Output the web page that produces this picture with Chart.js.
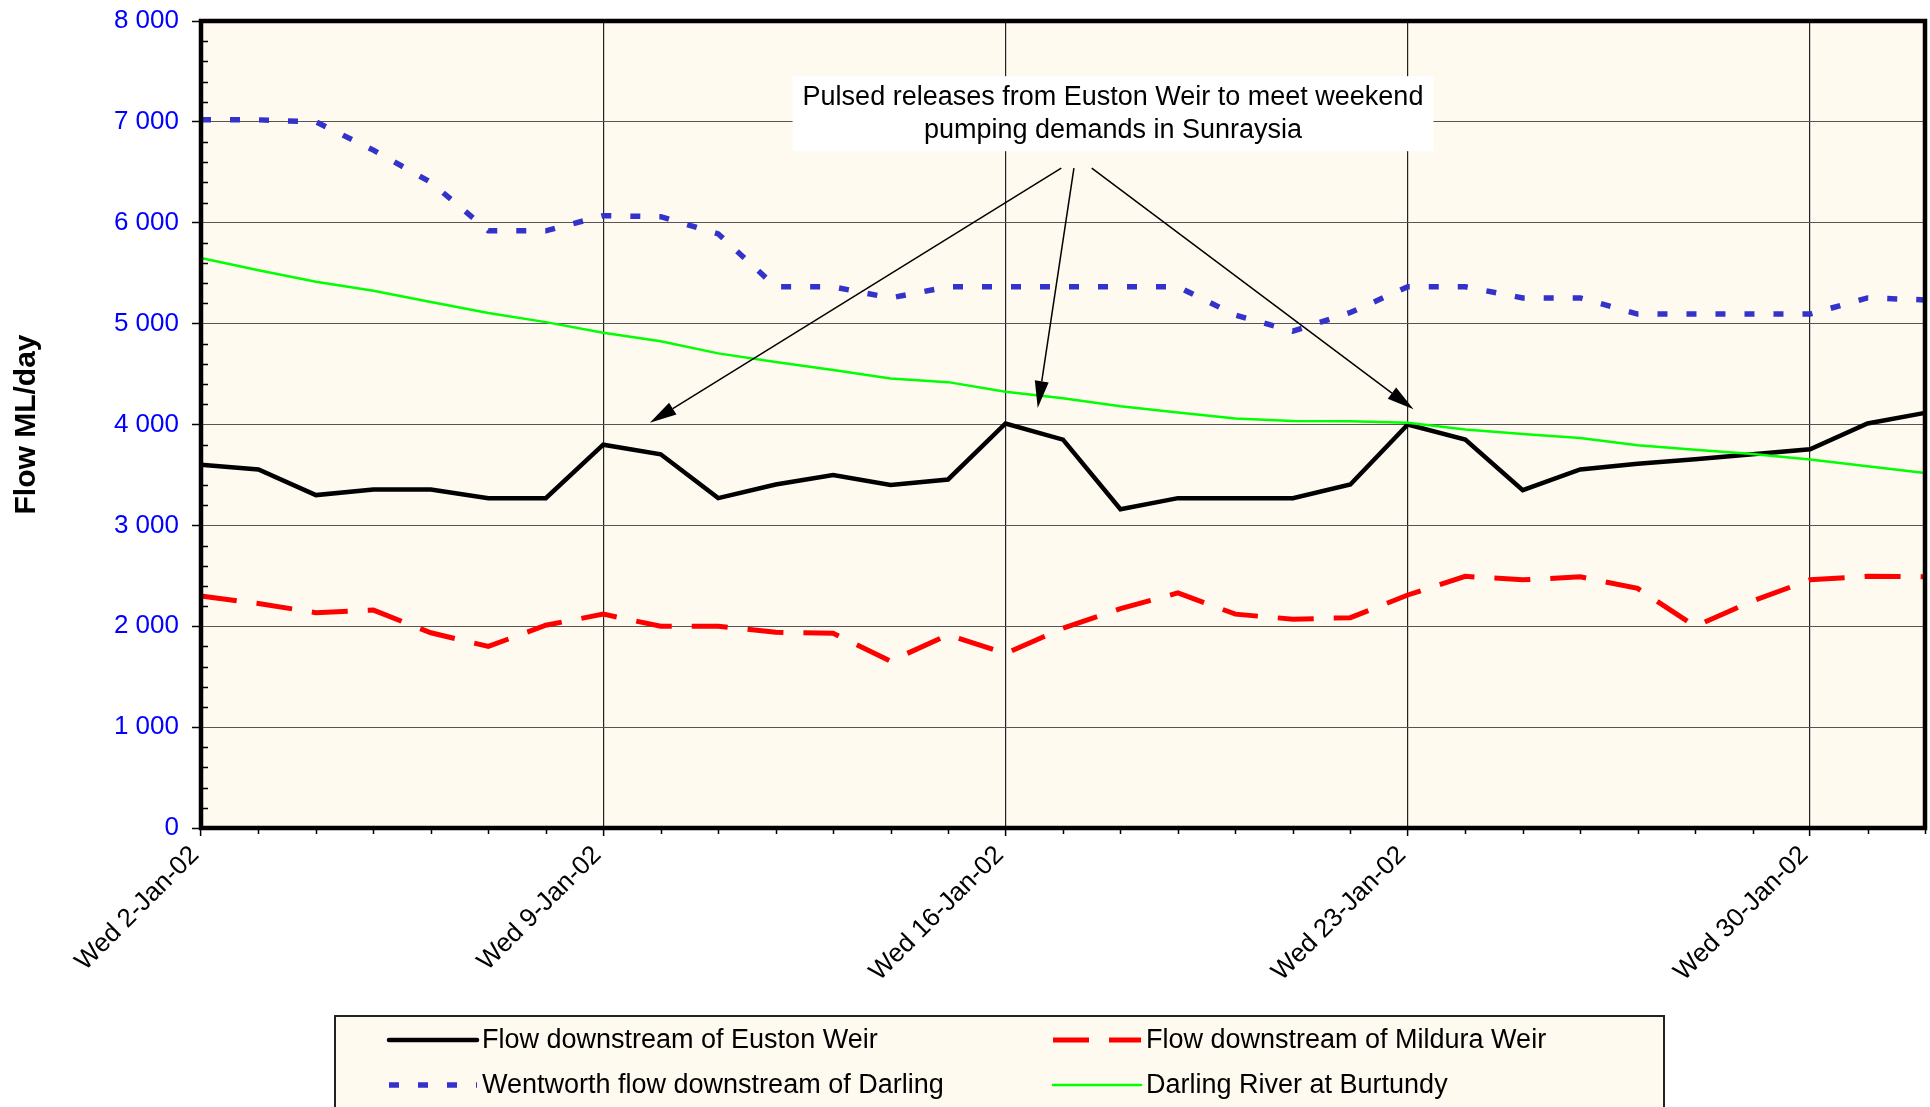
<!DOCTYPE html>
<html>
<head>
<meta charset="utf-8">
<title>Flow ML/day</title>
<script src="https://cdn.jsdelivr.net/npm/chart.js@4.4.1/dist/chart.umd.min.js"></script>
<style>
  html, body { margin: 0; padding: 0; background: #fff; }
  #wrap { width: 1930px; height: 1107px; position: relative; }
</style>
</head>
<body>
<div id="wrap"><canvas id="flowChart"></canvas></div>
<script>
// x categories, one per day
const DATES = [
    'Wed 2-Jan-02', 'Thu 3-Jan-02', 'Fri 4-Jan-02', 'Sat 5-Jan-02', 'Sun 6-Jan-02', 'Mon 7-Jan-02', 'Tue 8-Jan-02',
    'Wed 9-Jan-02', 'Thu 10-Jan-02', 'Fri 11-Jan-02', 'Sat 12-Jan-02', 'Sun 13-Jan-02', 'Mon 14-Jan-02', 'Tue 15-Jan-02',
    'Wed 16-Jan-02', 'Thu 17-Jan-02', 'Fri 18-Jan-02', 'Sat 19-Jan-02', 'Sun 20-Jan-02', 'Mon 21-Jan-02', 'Tue 22-Jan-02',
    'Wed 23-Jan-02', 'Thu 24-Jan-02', 'Fri 25-Jan-02', 'Sat 26-Jan-02', 'Sun 27-Jan-02', 'Mon 28-Jan-02', 'Tue 29-Jan-02',
    'Wed 30-Jan-02', 'Thu 31-Jan-02', 'Fri 1-Feb-02'
];

// flows in ML/day
const EUSTON = [3600, 3555, 3300, 3355, 3355, 3270, 3270, 3800, 3705, 3270, 3405, 3500, 3400, 3455, 4010, 3850,
    3160, 3270, 3270, 3270, 3405, 4000, 3850, 3350, 3555, 3610, 3655, 3705, 3755, 4010, 4115];
const MILDURA = [2300, 2225, 2135, 2160, 1935, 1800, 2010, 2120, 2000, 2000, 1940, 1930, 1655, 1915, 1730, 1980,
    2175, 2330, 2120, 2070, 2085, 2310, 2495, 2460, 2490, 2375, 2000, 2250, 2460, 2495, 2490];
const WENTWORTH = [7020, 7020, 7000, 6720, 6400, 5920, 5920, 6070, 6060, 5890, 5365, 5365, 5255, 5365, 5365, 5365,
    5365, 5365, 5085, 4925, 5110, 5365, 5365, 5255, 5255, 5095, 5095, 5095, 5095, 5255, 5235];
const BURTUNDY = [5650, 5530, 5415, 5325, 5215, 5105, 5015, 4910, 4825, 4705, 4620, 4540, 4455, 4420, 4325, 4260,
    4180, 4120, 4060, 4035, 4033, 4017, 3950, 3905, 3865, 3795, 3750, 3707, 3654, 3585, 3520];

const SERIES_NAMES = [
    'Flow downstream of Euston Weir',
    'Flow downstream of Mildura Weir',
    'Wentworth flow downstream of Darling',
    'Darling River at Burtundy'
];

const Y_MIN = 0, Y_MAX = 8000, Y_STEP = 1000, Y_MINOR = 200;
const WEEK = 7;

// callout text and arrows (in data units: day index, ML/day)
const NOTE_LINES = ['Pulsed releases from Euston Weir to meet weekend', 'pumping demands in Sunraysia'];
const NOTE_POS = { x: 15.87, y: 7081 };
const NOTE_ARROWS = [
    [14.97, 6541, 7.81, 4017],
    [15.19, 6541, 14.56, 4163],
    [15.50, 6541, 21.10, 4150]
];

const FONT = '"Liberation Sans", Arial, sans-serif';
const PLOT_BG = '#FFFAEF';

function fmtThousands(v) {
    return String(v).replace(/\B(?=(\d{3})+(?!\d))/g, ' ');
}

// background, minor ticks, frame and the callout
const plotDecor = {
    id: 'plotDecor',
    beforeDraw(chart) {
        const { ctx, chartArea: a } = chart;
        ctx.save();
        ctx.fillStyle = PLOT_BG;
        ctx.fillRect(a.left, a.top, a.right - a.left, a.bottom - a.top);
        ctx.restore();
    },
    afterDatasetsDraw(chart) {
        const { ctx, chartArea: a, scales: { x, y } } = chart;
        ctx.save();

        // minor ticks
        ctx.strokeStyle = '#000';
        ctx.lineWidth = 1.5;
        ctx.beginPath();
        for (let v = Y_MIN; v <= Y_MAX; v += Y_MINOR) {
            if (v % Y_STEP === 0) continue;
            const py = Math.round(y.getPixelForValue(v)) + 0.5;
            ctx.moveTo(a.left, py);
            ctx.lineTo(a.left + 7, py);
        }
        for (let i = 0; i < DATES.length; i++) {
            if (i % WEEK === 0) continue;
            const px = Math.round(x.getPixelForValue(i)) + 0.5;
            ctx.moveTo(px, a.bottom);
            ctx.lineTo(px, a.bottom + 6);
        }
        ctx.stroke();

        // thick frame round the plot
        ctx.lineWidth = 4.5;
        ctx.strokeRect(a.left, a.top, a.right - a.left, a.bottom - a.top);

        // callout box
        ctx.font = '27px ' + FONT;
        const cx = x.getPixelForValue(NOTE_POS.x);
        const cy = y.getPixelForValue(NOTE_POS.y);
        const lh = 33;
        const w = Math.max(...NOTE_LINES.map(t => ctx.measureText(t).width)) + 20;
        const h = lh * NOTE_LINES.length + 9;
        ctx.fillStyle = '#fff';
        ctx.fillRect(cx - w / 2, cy - h / 2, w, h);
        ctx.fillStyle = '#000';
        ctx.textAlign = 'center';
        ctx.textBaseline = 'middle';
        NOTE_LINES.forEach((t, i) => {
            ctx.fillText(t, cx, cy + (i - (NOTE_LINES.length - 1) / 2) * lh);
        });

        // arrows
        ctx.strokeStyle = '#000';
        ctx.lineWidth = 1.5;
        NOTE_ARROWS.forEach(([x0, y0, x1, y1]) => {
            const p0x = x.getPixelForValue(x0), p0y = y.getPixelForValue(y0);
            const p1x = x.getPixelForValue(x1), p1y = y.getPixelForValue(y1);
            const ang = Math.atan2(p1y - p0y, p1x - p0x);
            const headLen = 27, headW = 7;
            const bx = p1x - headLen * Math.cos(ang), by = p1y - headLen * Math.sin(ang);
            ctx.beginPath();
            ctx.moveTo(p0x, p0y);
            ctx.lineTo(bx, by);
            ctx.stroke();
            ctx.beginPath();
            ctx.moveTo(p1x, p1y);
            ctx.lineTo(bx + headW * Math.sin(ang), by - headW * Math.cos(ang));
            ctx.lineTo(bx - headW * Math.sin(ang), by + headW * Math.cos(ang));
            ctx.closePath();
            ctx.fill();
        });
        ctx.restore();
    }
};

// two-column legend under the axis labels
const boxLegend = {
    id: 'boxLegend',
    afterDraw(chart) {
        const { ctx } = chart;
        const box = { left: 335, top: 1016, width: 1329, height: 120 };
        const cols = [389, 1053];
        const rows = [1040, 1085];
        const sampleLen = 88;
        ctx.save();
        ctx.fillStyle = PLOT_BG;
        ctx.fillRect(box.left, box.top, box.width, box.height);
        ctx.strokeStyle = '#222';
        ctx.lineWidth = 2;
        ctx.strokeRect(box.left, box.top, box.width, box.height);

        ctx.font = '27px ' + FONT;
        ctx.textAlign = 'left';
        ctx.textBaseline = 'middle';
        chart.data.datasets.forEach((ds, i) => {
            const sx = cols[i % 2], sy = rows[Math.floor(i / 2)];
            ctx.beginPath();
            ctx.strokeStyle = ds.borderColor;
            ctx.lineWidth = ds.borderWidth;
            ctx.setLineDash(ds.borderDash || []);
            ctx.lineCap = ds.borderDash ? 'butt' : 'round';
            ctx.moveTo(sx, sy);
            ctx.lineTo(sx + sampleLen, sy);
            ctx.stroke();
            ctx.setLineDash([]);
            ctx.fillStyle = '#000';
            ctx.fillText(ds.label, sx + sampleLen + 5, sy + 1);
        });
        ctx.restore();
    }
};

new Chart(document.getElementById('flowChart'), {
    type: 'line',
    data: {
        labels: DATES,
        datasets: [
            { label: SERIES_NAMES[0], data: EUSTON, borderColor: '#000000', borderWidth: 4.5, order: 1 },
            { label: SERIES_NAMES[1], data: MILDURA, borderColor: '#FF0000', borderWidth: 5, borderDash: [36, 20], order: 1 },
            { label: SERIES_NAMES[2], data: WENTWORTH, borderColor: '#3333CC', borderWidth: 5.5, borderDash: [10, 19], order: 1 },
            { label: SERIES_NAMES[3], data: BURTUNDY, borderColor: '#00FF00', borderWidth: 2.5, order: 0 }
        ]
    },
    options: {
        responsive: true,
        maintainAspectRatio: false,
        animation: false,
        events: [],
        elements: {
            point: { radius: 0 },
            line: { tension: 0, fill: false, borderCapStyle: 'butt', borderJoinStyle: 'miter' }
        },
        layout: { padding: { left: 0, top: 21, right: 5, bottom: 0 } },
        plugins: {
            legend: { display: false },
            tooltip: { enabled: false }
        },
        scales: {
            x: {
                type: 'category',
                offset: false,
                border: { display: false },
                grid: {
                    color: c => c.index % WEEK === 0 ? '#222' : 'rgba(0,0,0,0)',
                    lineWidth: 1.2,
                    tickLength: 8,
                    tickColor: c => c.index % WEEK === 0 ? '#000' : 'rgba(0,0,0,0)',
                    tickWidth: 1.5
                },
                ticks: {
                    autoSkip: false,
                    minRotation: 45,
                    maxRotation: 45,
                    padding: 4,
                    labelOffset: -6,
                    color: '#000',
                    font: { family: FONT, size: 26 },
                    callback(value, index) {
                        return index % WEEK === 0 ? this.getLabelForValue(value) : '';
                    }
                },
                afterFit(scale) {
                    scale.height = 279;
                    scale.paddingLeft = 0;
                    scale.paddingRight = 0;
                }
            },
            y: {
                min: Y_MIN,
                max: Y_MAX,
                border: { display: false },
                grid: { color: '#555', lineWidth: 1, tickLength: 9, tickColor: '#000', tickWidth: 1.5 },
                ticks: {
                    stepSize: Y_STEP,
                    padding: 13,
                    color: '#0000FF',
                    font: { family: FONT, size: 26 },
                    callback: v => fmtThousands(v)
                },
                title: {
                    display: true,
                    text: 'Flow ML/day',
                    color: '#000',
                    font: { family: FONT, size: 30, weight: 'bold' },
                    padding: { top: 9, bottom: 0 }
                },
                afterFit(scale) {
                    scale.width = 201;
                    scale.paddingTop = 0;
                    scale.paddingBottom = 0;
                }
            }
        }
    },
    plugins: [plotDecor, boxLegend]
});
</script>
</body>
</html>
